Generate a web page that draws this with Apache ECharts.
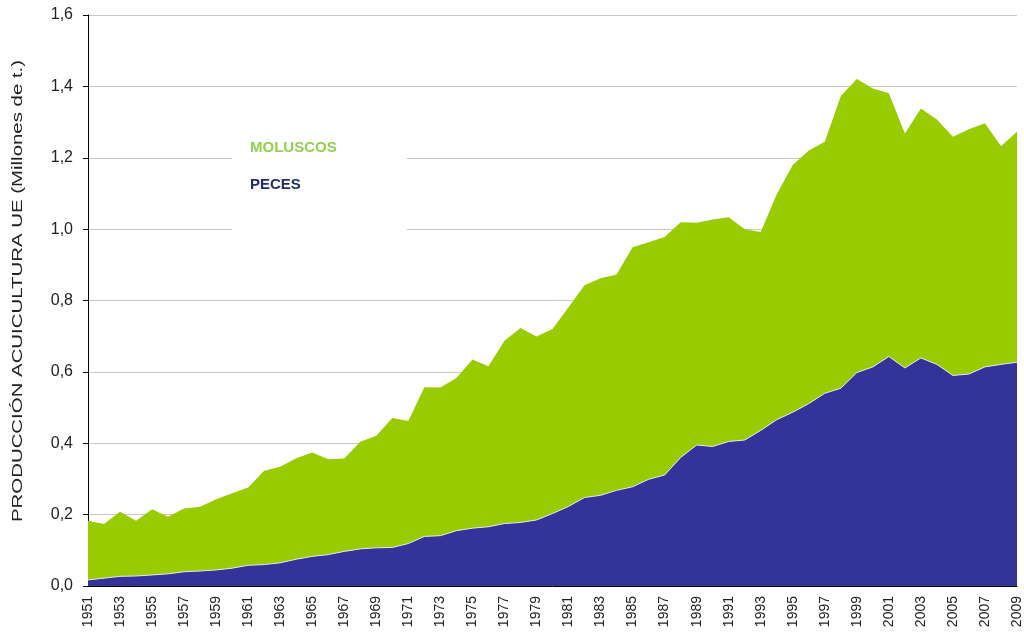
<!DOCTYPE html>
<html>
<head>
<meta charset="utf-8">
<title>Producción acuicultura UE</title>
<script src="https://cdn.jsdelivr.net/npm/echarts@6/dist/echarts.min.js"></script>
<style>
  html, body { margin: 0; padding: 0; background: #fff; }
  #main { width: 1024px; height: 636px; }
</style>
</head>
<body>
<div id="main"></div>
<script>
// años 1951 - 2009
var years = [];
for (var y = 1951; y <= 2009; y++) years.push(String(y));

// peces (millones de t.)
var peces = [
  0.017, 0.022, 0.027, 0.028, 0.031, 0.034, 0.040, 0.042, 0.045, 0.050,
  0.058, 0.060, 0.065, 0.075, 0.083, 0.088, 0.097, 0.104, 0.107, 0.108,
  0.119, 0.139, 0.141, 0.155, 0.162, 0.166, 0.175, 0.178, 0.185, 0.203,
  0.223, 0.248, 0.254, 0.268, 0.278, 0.299, 0.311, 0.360, 0.395, 0.391,
  0.405, 0.409, 0.436, 0.466, 0.487, 0.511, 0.540, 0.554, 0.598, 0.614,
  0.643, 0.611, 0.639, 0.621, 0.590, 0.594, 0.614, 0.621, 0.627
];

var total = [
  0.183, 0.174, 0.208, 0.183, 0.215, 0.194, 0.217, 0.222, 0.243, 0.260,
  0.276, 0.323, 0.334, 0.358, 0.374, 0.355, 0.357, 0.404, 0.421, 0.471,
  0.462, 0.557, 0.556, 0.583, 0.635, 0.616, 0.687, 0.723, 0.699, 0.720,
  0.781, 0.843, 0.862, 0.873, 0.949, 0.963, 0.978, 1.019, 1.018, 1.027,
  1.033, 1.000, 0.992, 1.098, 1.180, 1.220, 1.245, 1.373, 1.421, 1.394,
  1.381, 1.268, 1.338, 1.307, 1.259, 1.280, 1.297, 1.232, 1.273
];

var moluscos = total.map(function (t, i) {
  return +(t - peces[i]).toFixed(3);
});

var yTitle = 'PRODUCCIÓN ACUICULTURA UE (Millones de t.)';

var myChart = echarts.init(document.getElementById('main'));

var option = {
  animation: false,
  textStyle: { fontFamily: 'Liberation Sans, Arial, sans-serif' },
  grid: {
    left: 88,
    right: 7,
    top: 15,
    bottom: 50,
    outerBoundsMode: 'none'
  },
  // título del eje Y, estirado como en el original
  graphic: [
    {
      type: 'text',
      x: 18,
      y: 291,
      rotation: Math.PI / 2,
      scaleX: 1.36,
      style: {
        text: yTitle,
        font: '15px "Liberation Sans", Arial, sans-serif',
        fill: '#222',
        align: 'center',
        verticalAlign: 'middle'
      }
    }
  ],
  legend: {
    orient: 'vertical',
    left: 232,
    top: 120,
    backgroundColor: '#ffffff',
    padding: [20, 70, 40, 13],
    itemWidth: 0,
    itemHeight: 0,
    itemGap: 22,
    selectedMode: false,
    textStyle: { fontSize: 15, fontWeight: 'bold' },
    data: [
      { name: 'MOLUSCOS', icon: 'none', textStyle: { color: '#92D050' } },
      { name: 'PECES', icon: 'none', textStyle: { color: '#1F2F6E' } }
    ]
  },
  xAxis: {
    type: 'category',
    boundaryGap: false,
    data: years,
    axisLine: { show: true, lineStyle: { color: '#000', width: 1 } },
    axisTick: { show: false },
    splitLine: { show: false },
    axisLabel: {
      interval: 1,
      rotate: 90,
      fontSize: 14,
      color: '#222',
      margin: 10
    }
  },
  yAxis: {
    type: 'value',
    min: 0,
    max: 1.6,
    interval: 0.2,
    axisLine: { show: true, lineStyle: { color: '#000', width: 1 } },
    axisTick: { show: true, length: 5, lineStyle: { color: '#000' } },
    splitLine: { show: true, lineStyle: { color: '#c8c8c8', width: 1 } },
    axisLabel: {
      fontSize: 16,
      color: '#222',
      margin: 15,
      formatter: function (v) {
        return v.toFixed(1).replace('.', ',');
      }
    }
  },
  series: [
    {
      name: 'PECES',
      type: 'line',
      stack: 'total',
      symbol: 'none',
      data: peces,
      lineStyle: { color: '#e6e6e6', width: 1 },
      itemStyle: { color: '#333399' },
      areaStyle: { color: '#333399', opacity: 1 },
      z: 3
    },
    {
      name: 'MOLUSCOS',
      type: 'line',
      stack: 'total',
      symbol: 'none',
      data: moluscos,
      lineStyle: { width: 0 },
      itemStyle: { color: '#99CC00' },
      areaStyle: { color: '#99CC00', opacity: 1 },
      z: 2
    }
  ]
};

option && myChart.setOption(option);

window.addEventListener('resize', function () {
  myChart.resize();
});
</script>
</body>
</html>
